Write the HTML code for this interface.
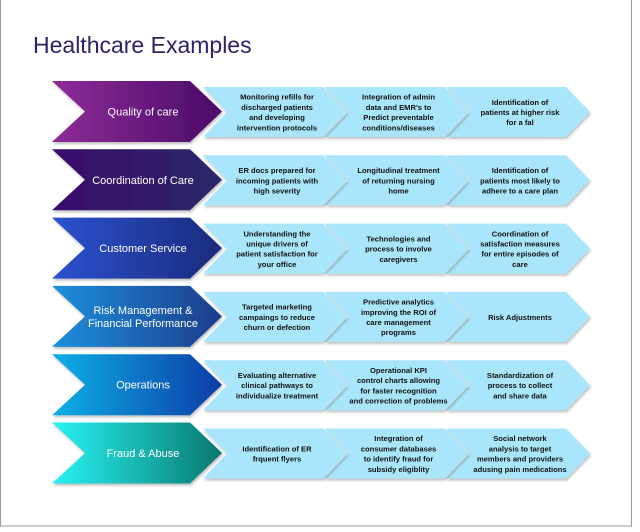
<!DOCTYPE html>
<html><head><style>
html,body{margin:0;padding:0;background:#fff;}
svg{display:block;}
text{font-family:"Liberation Sans",sans-serif;}
.t{font-size:7.6px;font-weight:bold;fill:#111;text-anchor:middle;}
.h{font-size:11px;fill:#fff;text-anchor:middle;}
.l{fill:#a9e6fb;}
</style></head><body>
<svg width="640" height="532" viewBox="0 0 640 532" xmlns="http://www.w3.org/2000/svg">
<defs>
<linearGradient id="g1"><stop offset="0" stop-color="#8e2c98"/><stop offset="1" stop-color="#4a0a68"/></linearGradient>
<linearGradient id="g2"><stop offset="0" stop-color="#3a0c6c"/><stop offset="1" stop-color="#2a2868"/></linearGradient>
<linearGradient id="g3"><stop offset="0" stop-color="#2c52d0"/><stop offset="1" stop-color="#1a2a7c"/></linearGradient>
<linearGradient id="g4"><stop offset="0" stop-color="#1a90dc"/><stop offset="1" stop-color="#1a3c8c"/></linearGradient>
<linearGradient id="g5"><stop offset="0" stop-color="#0cb0e6"/><stop offset="1" stop-color="#0a3ca6"/></linearGradient>
<linearGradient id="g6"><stop offset="0" stop-color="#2af2f4"/><stop offset="1" stop-color="#08786e"/></linearGradient>
<filter id="sh" x="-5%" y="-5%" width="115%" height="125%"><feDropShadow dx="1" dy="2" stdDeviation="1.2" flood-color="#000" flood-opacity="0.25"/></filter>
</defs>
<rect x="0.5" y="-1" width="631" height="527" fill="none" stroke="#999"/>
<text x="33" y="53" font-size="23" fill="#2a2368">Healthcare Examples</text>

<g transform="translate(0,81)">
<polygon class="l" filter="url(#sh)" points="446,6 566,6 590,31 566,56 446,56 470,31"/>
<polygon class="l" filter="url(#sh)" points="324.5,6 444.5,6 468.5,31 444.5,56 324.5,56 348.5,31"/>
<polygon class="l" filter="url(#sh)" points="203,6 323,6 347,31 323,56 203,56 227,31"/>
<text class="t" x="277" y="18.7">Monitoring refills for</text><text class="t" x="277" y="28.9">discharged patients</text><text class="t" x="277" y="39.1">and developing</text><text class="t" x="277" y="49.3">intervention protocols</text>
<text class="t" x="398.5" y="18.7">Integration of admin</text><text class="t" x="398.5" y="28.9">data and EMR's to</text><text class="t" x="398.5" y="39.1">Predict preventable</text><text class="t" x="398.5" y="49.3">conditions/diseases</text>
<text class="t" x="520" y="23.8">Identification of</text><text class="t" x="520" y="34">patients at higher risk</text><text class="t" x="520" y="44.2">for a fal</text>
<polygon filter="url(#sh)" fill="url(#g1)" points="52,0 190,0 222,30.5 190,61 52,61 85,30.5"/>
<text class="h" x="143" y="34.5">Quality of care</text>
</g>

<g transform="translate(0,149.3)">
<polygon class="l" filter="url(#sh)" points="446,6 566,6 590,31 566,56 446,56 470,31"/>
<polygon class="l" filter="url(#sh)" points="324.5,6 444.5,6 468.5,31 444.5,56 324.5,56 348.5,31"/>
<polygon class="l" filter="url(#sh)" points="203,6 323,6 347,31 323,56 203,56 227,31"/>
<text class="t" x="277" y="23.8">ER docs prepared for</text><text class="t" x="277" y="34">incoming patients with</text><text class="t" x="277" y="44.2">high severity</text>
<text class="t" x="398.5" y="23.8">Longitudinal treatment</text><text class="t" x="398.5" y="34">of returning nursing</text><text class="t" x="398.5" y="44.2">home</text>
<text class="t" x="520" y="23.8">Identification of</text><text class="t" x="520" y="34">patients most likely to</text><text class="t" x="520" y="44.2">adhere to a care plan</text>
<polygon filter="url(#sh)" fill="url(#g2)" points="52,0 190,0 222,30.5 190,61 52,61 85,30.5"/>
<text class="h" x="143" y="34.5">Coordination of Care</text>
</g>

<g transform="translate(0,217.6)">
<polygon class="l" filter="url(#sh)" points="446,6 566,6 590,31 566,56 446,56 470,31"/>
<polygon class="l" filter="url(#sh)" points="324.5,6 444.5,6 468.5,31 444.5,56 324.5,56 348.5,31"/>
<polygon class="l" filter="url(#sh)" points="203,6 323,6 347,31 323,56 203,56 227,31"/>
<text class="t" x="277" y="18.7">Understanding the</text><text class="t" x="277" y="28.9">unique drivers of</text><text class="t" x="277" y="39.1">patient satisfaction for</text><text class="t" x="277" y="49.3">your office</text>
<text class="t" x="398.5" y="23.8">Technologies and</text><text class="t" x="398.5" y="34">process to involve</text><text class="t" x="398.5" y="44.2">caregivers</text>
<text class="t" x="520" y="18.7">Coordination of</text><text class="t" x="520" y="28.9">satisfaction measures</text><text class="t" x="520" y="39.1">for entire episodes of</text><text class="t" x="520" y="49.3">care</text>
<polygon filter="url(#sh)" fill="url(#g3)" points="52,0 190,0 222,30.5 190,61 52,61 85,30.5"/>
<text class="h" x="143" y="34.5">Customer Service</text>
</g>

<g transform="translate(0,285.9)">
<polygon class="l" filter="url(#sh)" points="446,6 566,6 590,31 566,56 446,56 470,31"/>
<polygon class="l" filter="url(#sh)" points="324.5,6 444.5,6 468.5,31 444.5,56 324.5,56 348.5,31"/>
<polygon class="l" filter="url(#sh)" points="203,6 323,6 347,31 323,56 203,56 227,31"/>
<text class="t" x="277" y="23.8">Targeted marketing</text><text class="t" x="277" y="34">campaings to reduce</text><text class="t" x="277" y="44.2">churn or defection</text>
<text class="t" x="398.5" y="18.7">Predictive analytics</text><text class="t" x="398.5" y="28.9">improving the ROI of</text><text class="t" x="398.5" y="39.1">care management</text><text class="t" x="398.5" y="49.3">programs</text>
<text class="t" x="520" y="34">Risk Adjustments</text>
<polygon filter="url(#sh)" fill="url(#g4)" points="52,0 190,0 222,30.5 190,61 52,61 85,30.5"/>
<text class="h" x="143" y="28">Risk Management &amp;</text>
<text class="h" x="143" y="41">Financial Performance</text>
</g>

<g transform="translate(0,354.2)">
<polygon class="l" filter="url(#sh)" points="446,6 566,6 590,31 566,56 446,56 470,31"/>
<polygon class="l" filter="url(#sh)" points="324.5,6 444.5,6 468.5,31 444.5,56 324.5,56 348.5,31"/>
<polygon class="l" filter="url(#sh)" points="203,6 323,6 347,31 323,56 203,56 227,31"/>
<text class="t" x="277" y="23.8">Evaluating alternative</text><text class="t" x="277" y="34">clinical pathways to</text><text class="t" x="277" y="44.2">individualize treatment</text>
<text class="t" x="398.5" y="18.7">Operational KPI</text><text class="t" x="398.5" y="28.9">control charts allowing</text><text class="t" x="398.5" y="39.1">for faster recognition</text><text class="t" x="398.5" y="49.3">and correction of problems</text>
<text class="t" x="520" y="23.8">Standardization of</text><text class="t" x="520" y="34">process to collect</text><text class="t" x="520" y="44.2">and share data</text>
<polygon filter="url(#sh)" fill="url(#g5)" points="52,0 190,0 222,30.5 190,61 52,61 85,30.5"/>
<text class="h" x="143" y="34.5">Operations</text>
</g>

<g transform="translate(0,422.5)">
<polygon class="l" filter="url(#sh)" points="446,6 566,6 590,31 566,56 446,56 470,31"/>
<polygon class="l" filter="url(#sh)" points="324.5,6 444.5,6 468.5,31 444.5,56 324.5,56 348.5,31"/>
<polygon class="l" filter="url(#sh)" points="203,6 323,6 347,31 323,56 203,56 227,31"/>
<text class="t" x="277" y="28.9">Identification of ER</text><text class="t" x="277" y="39.1">frquent flyers</text>
<text class="t" x="398.5" y="18.7">Integration of</text><text class="t" x="398.5" y="28.9">consumer databases</text><text class="t" x="398.5" y="39.1">to identify fraud for</text><text class="t" x="398.5" y="49.3">subsidy eligiblity</text>
<text class="t" x="520" y="18.7">Social network</text><text class="t" x="520" y="28.9">analysis to target</text><text class="t" x="520" y="39.1">members and providers</text><text class="t" x="520" y="49.3">adusing pain medications</text>
<polygon filter="url(#sh)" fill="url(#g6)" points="52,0 190,0 222,30.5 190,61 52,61 85,30.5"/>
<text class="h" x="143" y="34.5">Fraud &amp; Abuse</text>
</g>
</svg>
</body></html>
